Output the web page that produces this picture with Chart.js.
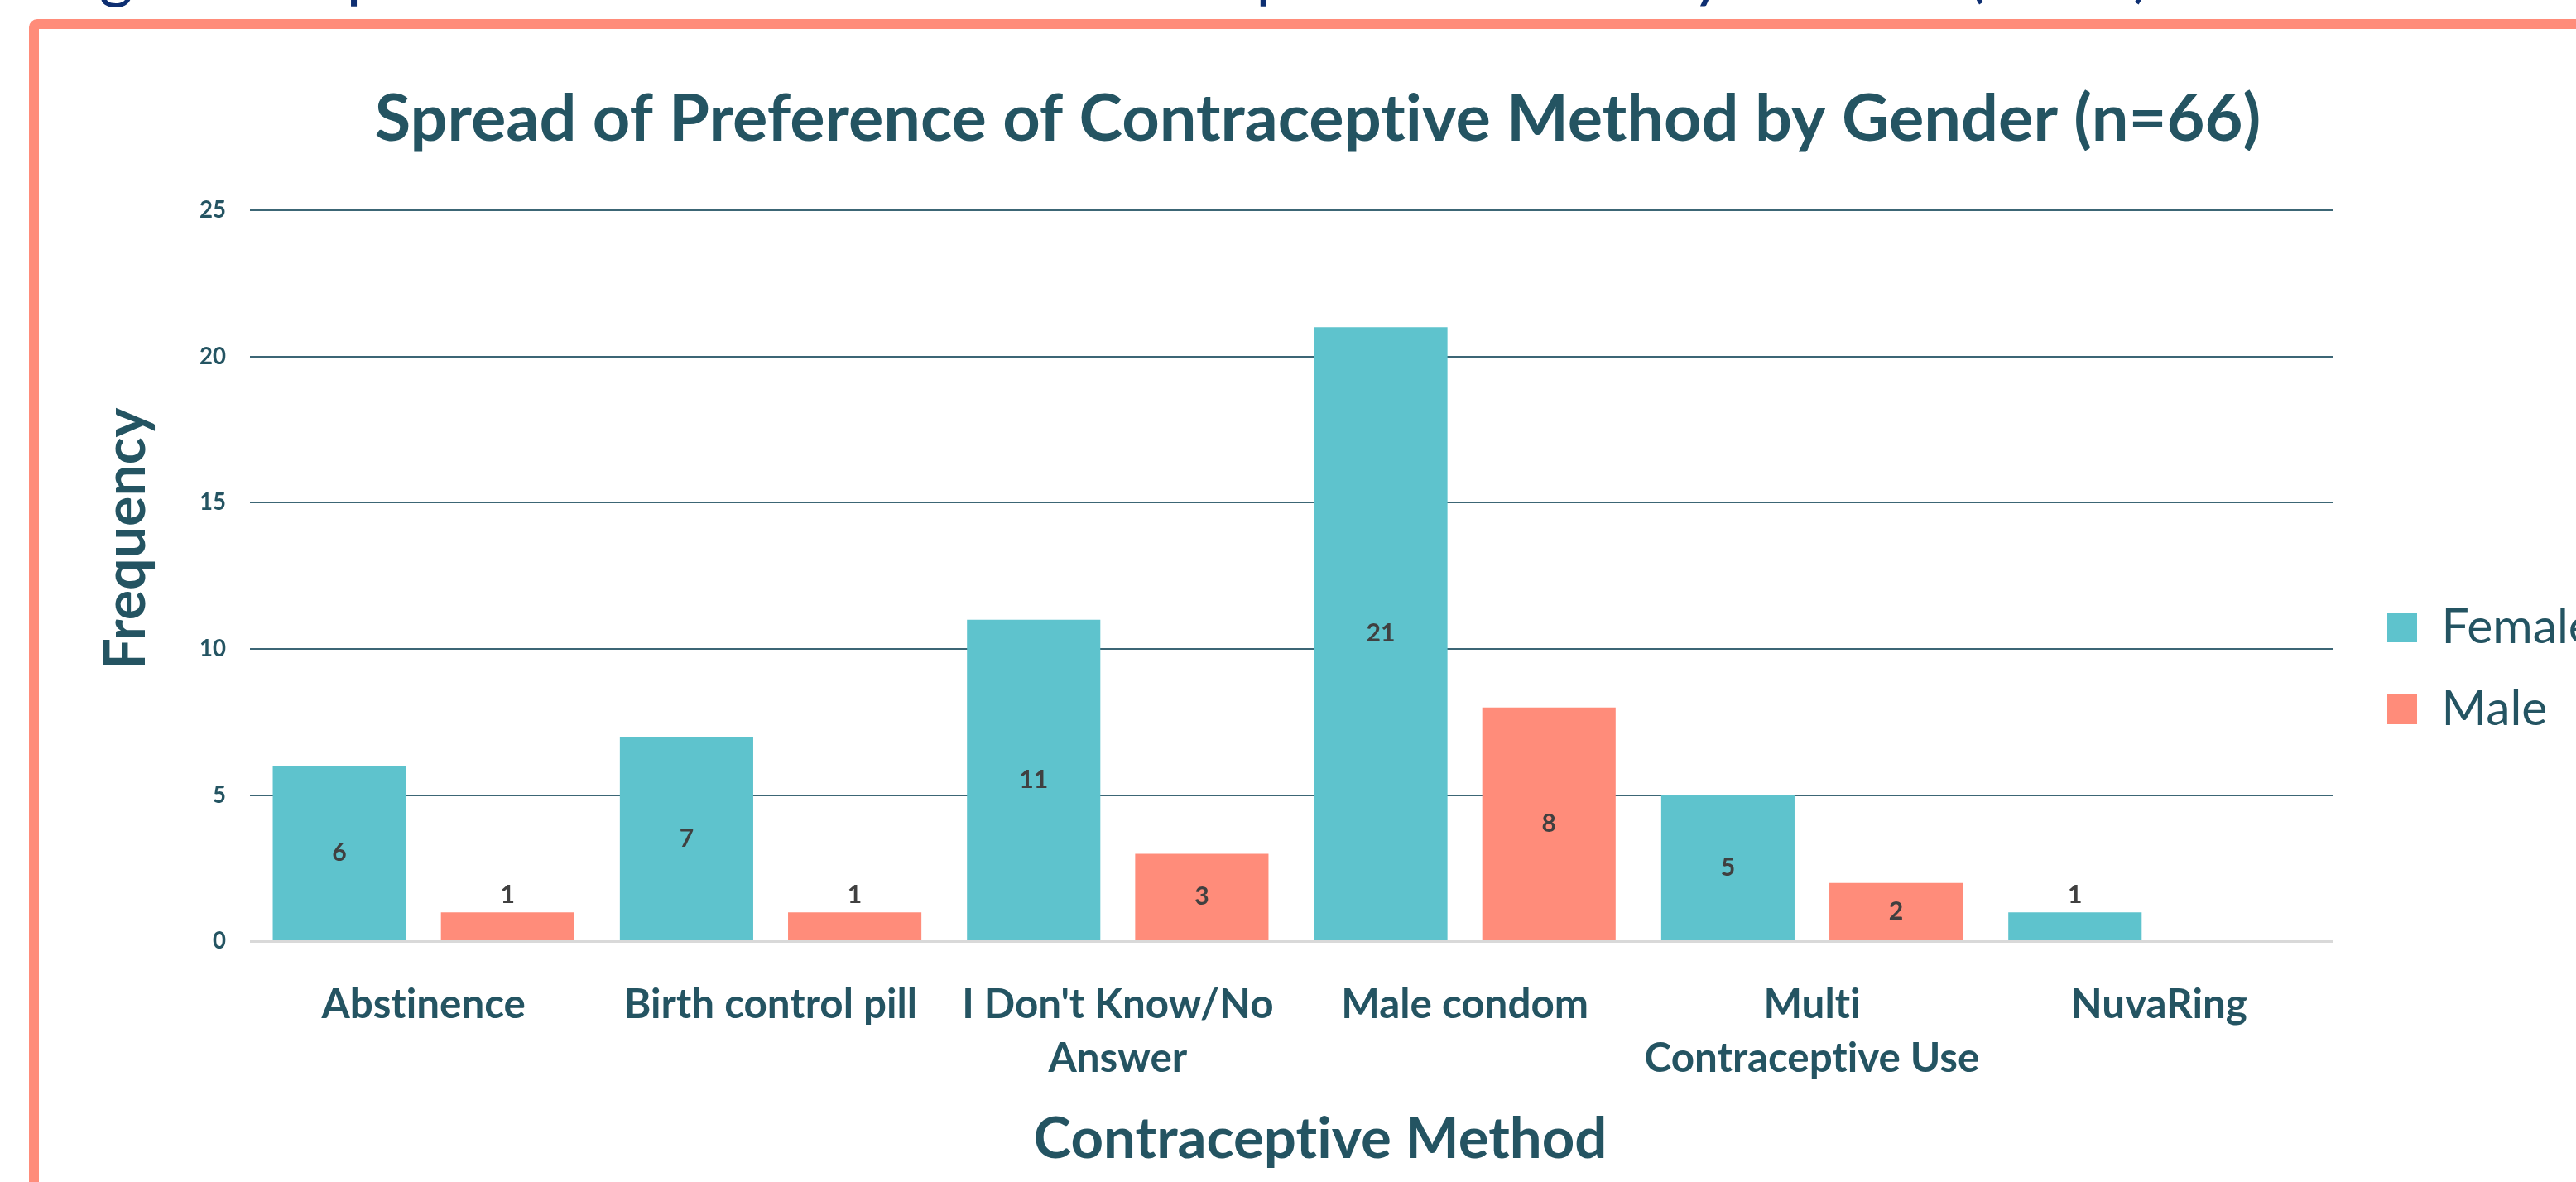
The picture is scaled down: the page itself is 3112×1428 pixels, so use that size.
<!DOCTYPE html>
<html>
<head>
<meta charset="utf-8">
<script src="https://cdn.jsdelivr.net/npm/chart.js@4.4.1/dist/chart.umd.min.js"></script>
<style>
  html, body { margin: 0; padding: 0; width: 3112px; height: 1428px; overflow: hidden; background: #ffffff; }
  #frame { position: absolute; left: 35px; top: 23px; width: 3250px; height: 1550px; box-sizing: border-box;
           border: 12px solid #FF8C7A; border-radius: 10px; background: #ffffff; }
  #caption { position: absolute; white-space: nowrap; color: #0E2F72; font-family: Lato, sans-serif; font-weight: 400;
             font-variant-ligatures: none; }
  #c { position: absolute; left: 0; top: 0; font-variant-ligatures: none; }
</style>
</head>
<body>
<div id="frame"></div>
<div id="caption"></div>
<canvas id="c" width="3112" height="1428"></canvas>
<script>
// ---------------- data ----------------
const categories = [
  'Abstinence',
  'Birth control pill',
  ["I Don't Know/No", 'Answer'],
  'Male condom',
  ['Multi', 'Contraceptive Use'],
  'NuvaRing'
];
const femaleValues = [6, 7, 11, 21, 5, 1];
const maleValues   = [1, 1, 3, 8, 2, null];
const seriesNames  = ['Female', 'Male'];
const yTicks       = [0, 5, 10, 15, 20, 25];

const captionText = 'Figure 4. Spread of Preference of Contraceptive Method by Gender (n=66)';
const titleText   = 'Spread of Preference of Contraceptive Method by Gender (n=66)';
const yTitleText  = 'Frequency';
const xTitleText  = 'Contraceptive Method';

// ---------------- styling ----------------
const FONT = 'Lato';
const TEXT_COLOR = '#245462';
const FEMALE_COLOR = '#5EC3CD';
const MALE_COLOR = '#FF8C7A';

const mctx = document.createElement('canvas').getContext('2d');
if ('textRendering' in mctx) mctx.textRendering = 'optimizeSpeed';
function fitSize(text, weight, target) {
  mctx.font = weight + ' 100px ' + FONT;
  return 100 * target / mctx.measureText(text).width;
}

const TITLE_FS  = fitSize(titleText, 'bold', 2279);
const XLBL_FS   = fitSize('Birth control pill', 'bold', 354);
const YLBL_FS   = fitSize('25', 'bold', 32);
const DLBL_FS   = fitSize('21', 'bold', 35);
const LEG_FS    = fitSize('Male', 'normal', 128);
const YTITLE_FS = fitSize(yTitleText, 'bold', 317);
const XTITLE_FS = fitSize(xTitleText, 'bold', 693);

// layout targets (page pixels)
const PLOT_LEFT = 302, PLOT_RIGHT = 2818, PLOT_TOP = 254, PLOT_BOTTOM = 1137.5;
const W = 3112, H = 1428;
const TITLE_CY = 144, TITLE_CX = 1592;
const LEGEND_W = 200, LEGEND_BOX = 36, LEGEND_STEP = 99, LEGEND_BOX_X = 2884, LEGEND_BOX_Y = 740;
const LEG_PAD = LEGEND_STEP - LEG_FS;

// caption (mostly cut off at top of page)
(function () {
  const cap = document.getElementById('caption');
  mctx.font = '400 100px ' + FONT;
  const wAll = mctx.measureText(captionText).width;
  const wFi = mctx.measureText('Fi').width;
  const s = 100 * 2485 / (wAll - wFi);
  mctx.font = '400 ' + s + 'px ' + FONT;
  const m = mctx.measureText(captionText);
  const asc = m.fontBoundingBoxAscent, desc = m.fontBoundingBoxDescent;
  cap.textContent = captionText;
  cap.style.fontSize = s + 'px';
  cap.style.lineHeight = (asc + desc) + 'px';
  cap.style.left = (120 - wFi * s / 100) + 'px';
  cap.style.top = (-6 - asc) + 'px';
})();

const placement = {
  id: 'placement',
  beforeDraw(chart) {
    if ('textRendering' in chart.ctx) chart.ctx.textRendering = 'optimizeSpeed';
  },
  afterLayout(chart) {
    const lg = chart.legend;
    if (lg) {
      lg.left = LEGEND_BOX_X - LEG_PAD;
      lg.right = lg.left + 800;
      lg.top = LEGEND_BOX_Y - Math.max((LEG_FS - LEGEND_BOX) / 2, 0) - LEG_PAD;
      lg.bottom = lg.top + 600;
    }
    const tb = chart.titleBlock;
    if (tb) {
      const half = (tb.right - tb.left) / 2;
      tb.left = TITLE_CX - half;
      tb.right = TITLE_CX + half;
    }
  }
};

const dataLabels = {
  id: 'dataLabels',
  afterDatasetsDraw(chart) {
    const ctx = chart.ctx;
    ctx.save();
    ctx.font = 'bold ' + DLBL_FS + 'px ' + FONT;
    ctx.fillStyle = '#404040';
    ctx.textAlign = 'center';
    ctx.textBaseline = 'middle';
    chart.data.datasets.forEach((ds, di) => {
      const meta = chart.getDatasetMeta(di);
      meta.data.forEach((bar, i) => {
        const v = ds.data[i];
        if (v === null || v === undefined) return;
        const h = bar.base - bar.y;
        const y = h < 50 ? bar.y - 21 : (bar.y + bar.base) / 2;
        ctx.fillText(String(v), bar.x, y);
      });
    });
    ctx.restore();
  }
};

const axisTitles = {
  id: 'axisTitles',
  afterDraw(chart) {
    const ctx = chart.ctx;
    ctx.save();
    ctx.fillStyle = TEXT_COLOR;
    ctx.textAlign = 'center';
    ctx.textBaseline = 'middle';
    ctx.font = 'bold ' + XTITLE_FS + 'px ' + FONT;
    ctx.fillText(xTitleText, 1595, 1377);
    ctx.translate(153, 651);
    ctx.rotate(-Math.PI / 2);
    ctx.font = 'bold ' + YTITLE_FS + 'px ' + FONT;
    ctx.fillText(yTitleText, 0, 0);
    ctx.restore();
  }
};

new Chart(document.getElementById('c'), {
  type: 'bar',
  data: {
    labels: categories,
    datasets: [
      { label: seriesNames[0], data: femaleValues, backgroundColor: FEMALE_COLOR, borderWidth: 0,
        categoryPercentage: 0.969, barPercentage: 0.793 },
      { label: seriesNames[1], data: maleValues, backgroundColor: MALE_COLOR, borderWidth: 0,
        categoryPercentage: 0.969, barPercentage: 0.793 }
    ]
  },
  options: {
    responsive: false,
    animation: false,
    devicePixelRatio: 1,
    layout: { padding: { left: 0, top: 0, bottom: 0, right: W - PLOT_RIGHT - LEGEND_W } },
    plugins: {
      title: {
        display: true,
        text: titleText,
        color: TEXT_COLOR,
        font: { family: FONT, weight: 'bold', size: TITLE_FS, lineHeight: 1.2 },
        padding: { top: TITLE_CY - 0.6 * TITLE_FS, bottom: PLOT_TOP - TITLE_CY - 0.6 * TITLE_FS }
      },
      legend: {
        display: true,
        position: 'right',
        align: 'start',
        maxWidth: LEGEND_W,
        labels: {
          boxWidth: LEGEND_BOX, boxHeight: LEGEND_BOX, padding: LEG_PAD,
          color: TEXT_COLOR, font: { family: FONT, size: LEG_FS, weight: 'normal' }
        }
      },
      tooltip: { enabled: false }
    },
    scales: {
      x: {
        grid: { display: false },
        border: { display: false },
        ticks: {
          color: TEXT_COLOR, padding: 36, maxRotation: 0, autoSkip: false,
          font: { family: FONT, weight: 'bold', size: XLBL_FS, lineHeight: 65 / XLBL_FS }
        },
        afterFit(scale) { scale.height = H - PLOT_BOTTOM; }
      },
      y: {
        min: yTicks[0],
        max: yTicks[yTicks.length - 1],
        border: { display: false },
        grid: {
          drawTicks: false,
          color: c => (c.tick && c.tick.value === 0) ? '#D9D9D9' : '#3C6675',
          lineWidth: c => (c.tick && c.tick.value === 0) ? 3 : 2
        },
        ticks: {
          stepSize: yTicks[1] - yTicks[0],
          color: TEXT_COLOR, padding: 29,
          font: { family: FONT, weight: 'bold', size: YLBL_FS }
        },
        afterFit(scale) { scale.width = PLOT_LEFT; }
      }
    }
  },
  plugins: [placement, dataLabels, axisTitles]
});
</script>
</body>
</html>
